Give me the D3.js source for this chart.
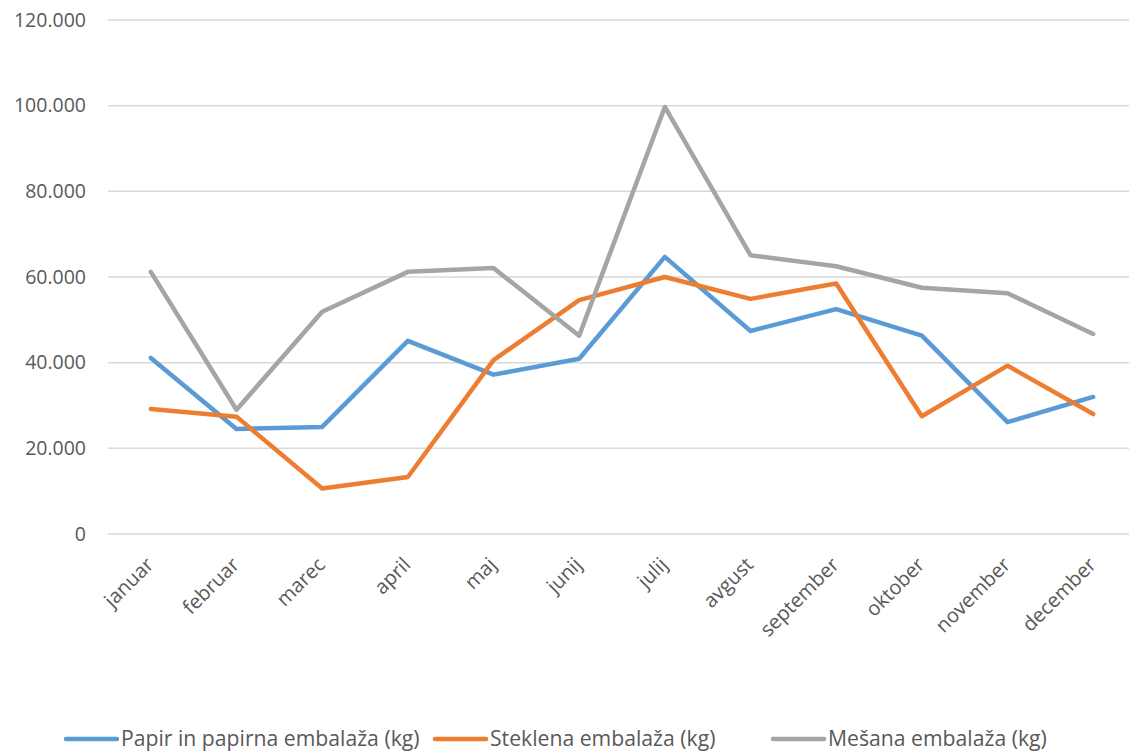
<!DOCTYPE html>
<html>
<head>
<meta charset="utf-8">
<script src="https://cdn.jsdelivr.net/npm/d3@7"></script>
<style>
  body { margin: 0; background: #fff; }
  svg { display: block; font-family: "Open Sans", "Noto Sans", sans-serif; }
</style>
</head>
<body>
<svg id="chart" width="1129" height="751"></svg>
<script>
// data
const months = ["januar", "februar", "marec", "april", "maj", "junij", "julij",
                "avgust", "september", "oktober", "november", "december"]
const papir    = [41100, 24500, 25000, 45100, 37200, 40900, 64700, 47400, 52500, 46300, 26100, 32000]
const steklena = [29200, 27400, 10600, 13300, 40600, 54600, 60000, 54900, 58500, 27500, 39300, 28000]
const mesana   = [61200, 29000, 51900, 61200, 62100, 46300, 99700, 65100, 62500, 57500, 56200, 46700]
const seriesNames = ["Papir in papirna embalaža (kg)", "Steklena embalaža (kg)", "Mešana embalaža (kg)"]
const seriesColors = ["#5B9BD5", "#ED7D31", "#A5A5A5"]
const yTicks = [0, 20000, 40000, 60000, 80000, 100000, 120000]

const svg = d3.select("#chart")
const plotLeft = 108, plotRight = 1136, plotTop = 20, plotBottom = 534

const x = d3.scaleBand().domain(months).range([plotLeft, plotRight])
const y = d3.scaleLinear().domain([0, 120000]).range([plotBottom, plotTop])

const fmt = v => v === 0 ? "0" : d3.format(",")(v).replace(/,/g, ".")

// gridlines
svg.append("g").selectAll("line")
  .data(yTicks).enter().append("line")
  .attr("x1", plotLeft).attr("x2", plotRight)
  .attr("y1", d => y(d)).attr("y2", d => y(d))
  .attr("stroke", "#D9D9D9").attr("stroke-width", 1.5)

// y labels
svg.append("g").selectAll("text")
  .data(yTicks).enter().append("text")
  .attr("x", 86).attr("y", d => y(d))
  .attr("dy", "0.35em")
  .attr("text-anchor", "end")
  .attr("fill", "#595959")
  .style("font-size", "19.5px")
  .text(fmt)

// x labels
svg.append("g").selectAll("text")
  .data(months).enter().append("text")
  .attr("text-anchor", "end")
  .attr("fill", "#595959")
  .style("font-size", "20px")
  .attr("transform", d => "translate(" + (x(d) + x.bandwidth() / 2 + 4) + "," + 566 + ") rotate(-45)")
  .text(d => d)

// lines
const allSeries = [papir, steklena, mesana]
const line = d3.line()
  .x((d, i) => x(months[i]) + x.bandwidth() / 2)
  .y(d => y(d))

svg.append("g").selectAll("path")
  .data(allSeries).enter().append("path")
  .attr("d", line)
  .attr("fill", "none")
  .attr("stroke", (d, i) => seriesColors[i])
  .attr("stroke-width", 4.5)
  .attr("stroke-linejoin", "round")
  .attr("stroke-linecap", "round")

// legend
const legendX = [66, 435, 773]
const legend = svg.append("g").selectAll("g")
  .data(seriesNames).enter().append("g")
  .attr("transform", (d, i) => "translate(" + legendX[i] + ",739)")

legend.append("line")
  .attr("x1", 0).attr("x2", 51)
  .attr("stroke", (d, i) => seriesColors[i])
  .attr("stroke-width", 4.5)
  .attr("stroke-linecap", "round")

legend.append("text")
  .attr("x", 55).attr("dy", "0.35em")
  .attr("fill", "#595959")
  .style("font-size", "21.2px")
  .text(d => d)
</script>
</body>
</html>
